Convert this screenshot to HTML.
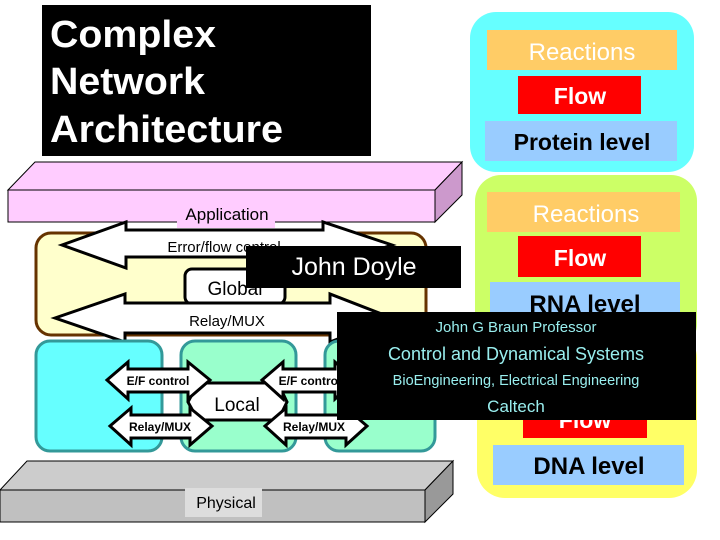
<!DOCTYPE html>
<html><head><style>
html,body{margin:0;padding:0;background:#fff;}
svg{display:block;}
text{font-family:"Liberation Sans",Arial,sans-serif;}
</style></head><body>
<svg width="720" height="540" viewBox="0 0 720 540" xmlns="http://www.w3.org/2000/svg">
<!-- right column -->
<rect x="470" y="12" width="224" height="160" rx="26" fill="#66ffff"/>
<rect x="487" y="30" width="190" height="40" fill="#ffcc66"/>
<text x="582" y="60" font-size="24" fill="#fff" text-anchor="middle">Reactions</text>
<rect x="518" y="76" width="123" height="38" fill="#ff0000"/>
<text x="580" y="104" font-size="23" font-weight="bold" fill="#fff" text-anchor="middle">Flow</text>
<rect x="485" y="121" width="192" height="40" fill="#99ccff"/>
<text x="582" y="150" font-size="23" font-weight="bold" fill="#000" text-anchor="middle">Protein level</text>

<rect x="477" y="330" width="220" height="168" rx="28" fill="#ffff66"/>
<rect x="475" y="175" width="222" height="175" rx="26" fill="#ccff66"/>
<rect x="487" y="192" width="193" height="40" fill="#ffcc66"/>
<text x="586" y="222" font-size="24" fill="#fff" text-anchor="middle">Reactions</text>
<rect x="518" y="236" width="123" height="41" fill="#ff0000"/>
<text x="580" y="266" font-size="23" font-weight="bold" fill="#fff" text-anchor="middle">Flow</text>
<rect x="490" y="282" width="190" height="40" fill="#99ccff"/>
<text x="585" y="312" font-size="24" font-weight="bold" fill="#000" text-anchor="middle">RNA level</text>
<rect x="523" y="400" width="124" height="38" fill="#ff0000"/>
<text x="585" y="428" font-size="23" font-weight="bold" fill="#fff" text-anchor="middle">Flow</text>
<rect x="493" y="445" width="191" height="40" fill="#99ccff"/>
<text x="589" y="474" font-size="24" font-weight="bold" fill="#000" text-anchor="middle">DNA level</text>

<!-- title -->
<rect x="42" y="5" width="329" height="151" fill="#000"/>
<g font-size="38" font-weight="bold" fill="#fff">
<text x="50" y="47" textLength="166" lengthAdjust="spacingAndGlyphs">Complex</text>
<text x="50" y="94" textLength="155" lengthAdjust="spacingAndGlyphs">Network</text>
<text x="50" y="142" textLength="233" lengthAdjust="spacingAndGlyphs">Architecture</text>
</g>

<!-- application slab -->
<polygon points="8,190 35,162 462,162 435,190" fill="#ffccff" stroke="#000" stroke-width="1"/>
<polygon points="435,190 462,162 462,195 435,222" fill="#cc99cc" stroke="#000" stroke-width="1"/>
<rect x="8" y="190" width="427" height="32" fill="#ffccff" stroke="#000" stroke-width="1"/>

<!-- global box -->
<rect x="36" y="233" width="390" height="102" rx="15" fill="#ffffcc" stroke="#663300" stroke-width="3"/>

<!-- big arrows -->
<polygon points="62,245 126,222 126,230 323,230 323,222 392,245 323,268 323,257 126,257 126,268" fill="#fff" stroke="#000" stroke-width="3" stroke-linejoin="miter"/>
<rect x="177" y="200" width="98" height="28" fill="#ffccff"/>
<text x="227" y="220" font-size="17" text-anchor="middle">Application</text>
<text x="224" y="252" font-size="15" text-anchor="middle">Error/flow control</text>
<rect x="185" y="269" width="100" height="35" rx="7" fill="#fff" stroke="#000" stroke-width="3"/>
<text x="235" y="295" font-size="19" text-anchor="middle">Global</text>
<polygon points="55,318 125,294 125,303 330,303 330,294 392,318 330,342 330,333 125,333 125,342" fill="#fff" stroke="#000" stroke-width="3"/>
<text x="227" y="326" font-size="15" text-anchor="middle">Relay/MUX</text>

<!-- local boxes -->
<rect x="36" y="341" width="126" height="110" rx="14" fill="#66ffff" stroke="#339999" stroke-width="3"/>
<rect x="181" y="341" width="115" height="110" rx="14" fill="#99ffcc" stroke="#339999" stroke-width="3"/>
<rect x="325" y="341" width="110" height="110" rx="14" fill="#99ffcc" stroke="#339999" stroke-width="3"/>

<polygon points="188,402 198,383 278,383 287,402 278,420 198,420" fill="#fff" stroke="#000" stroke-width="3"/>
<text x="237" y="411" font-size="19" text-anchor="middle">Local</text>

<g fill="#fff" stroke="#000" stroke-width="3">
<polygon points="107,380 128,362 128,369 188,369 188,362 210,380 188,399 188,392 128,392 128,399"/>
<polygon points="110,426 131,408 131,415 190,415 190,408 212,426 190,445 190,438 131,438 131,445"/>
<polygon points="262,380 283,362 283,369 335,369 335,362 356,380 335,399 335,392 283,392 283,399"/>
<polygon points="265,426 286,408 286,415 346,415 346,408 367,426 346,445 346,438 286,438 286,445"/>
</g>
<g font-size="12" font-weight="bold" text-anchor="middle">
<text x="158" y="385">E/F control</text>
<text x="160" y="431">Relay/MUX</text>
<text x="310" y="385">E/F control</text>
<text x="314" y="431">Relay/MUX</text>
</g>

<!-- physical -->
<polygon points="0,490 27,461 453,461 425,490" fill="#cccccc" stroke="#000" stroke-width="1"/>
<polygon points="425,490 453,461 453,494 425,522" fill="#999999" stroke="#000" stroke-width="1"/>
<rect x="0" y="490" width="425" height="32" fill="#c0c0c0" stroke="#000" stroke-width="1"/>
<rect x="185" y="488" width="77" height="29" fill="#dddddd"/>
<text x="226" y="508" font-size="16" text-anchor="middle">Physical</text>

<!-- overlays -->
<rect x="246" y="246" width="215" height="42" fill="#000"/>
<text x="354" y="275" font-size="25" fill="#fff" text-anchor="middle" font-family="DejaVu Sans, sans-serif">John Doyle</text>

<rect x="337" y="312" width="359" height="108" fill="#000"/>
<g fill="#99eeee" text-anchor="middle">
<text x="516" y="332" font-size="15">John G  Braun Professor</text>
<text x="516" y="360" font-size="18">Control and Dynamical Systems</text>
<text x="516" y="385" font-size="14.5">BioEngineering, Electrical Engineering</text>
<text x="516" y="412" font-size="17">Caltech</text>
</g>
</svg>
</body></html>
